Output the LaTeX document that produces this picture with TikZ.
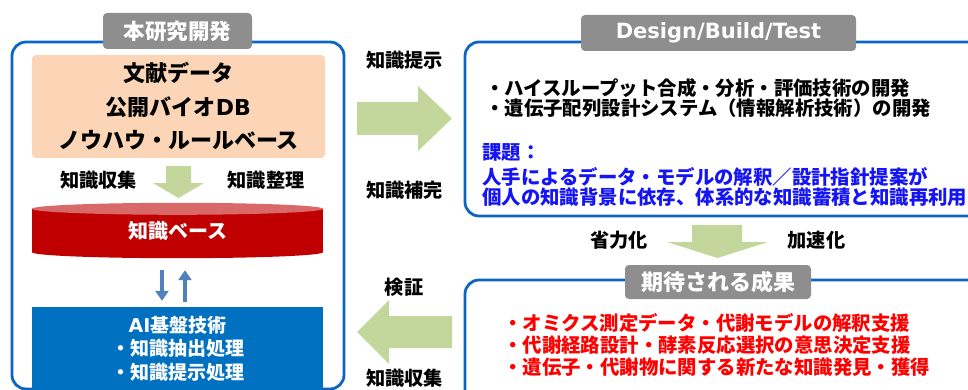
\documentclass[tikz,border=0pt]{standalone}
\usepackage{fontspec}
\setmainfont{Noto Sans CJK JP}
\newfontfamily\lat{DejaVu Sans}
\usetikzlibrary{arrows.meta,calc}
\definecolor{frameblue}{HTML}{0A66C2}
\definecolor{aiblue}{HTML}{0070C0}
\definecolor{tabgray}{HTML}{8E8E8E}
\definecolor{peach}{HTML}{FBD5B5}
\definecolor{arrowgreen}{HTML}{C3D69B}
\definecolor{kbred}{HTML}{C00000}
\definecolor{kbtop}{HTML}{D96868}
\definecolor{linkblue}{HTML}{4F81BD}
\definecolor{issueblue}{HTML}{1414F5}
\definecolor{resultred}{HTML}{FF0000}
\begin{document}
\begin{tikzpicture}[x=1pt,y=-1pt,
  frame/.style={draw=frameblue, line width=2.8pt, rounded corners=14pt, fill=white, inner sep=0pt},
  tab/.style={fill=tabgray, rounded corners=4pt, text=white, font=\bfseries\fontsize{21.5}{24}\selectfont, inner sep=0pt},
  lbl/.style={font=\bfseries\fontsize{19.2}{20}\selectfont, inner sep=0pt},
  body/.style={font=\bfseries\fontsize{19.4}{20}\selectfont, inner sep=0pt, anchor=west, align=left},
  blockarrow/.style={fill=arrowgreen},
  link/.style={draw=linkblue, line width=3.3pt, -{Triangle[width=13pt,length=10pt]}}
]
\useasboundingbox (0,0) rectangle (968,390);
\clip (0,0) rectangle (968,390);

% frames
\node[frame, minimum width=332pt, minimum height=347pt] (devbox) at (178,215.5) {};
\node[frame, minimum width=530pt, minimum height=174pt] (dbtbox) at (730,129) {};
\node[frame, minimum width=530pt, minimum height=130pt] (resbox) at (730,345) {};

% tabs
\node[tab, minimum width=149pt, minimum height=36pt] (tabdev) at (177.5,31) {本研究開発};
\node[tab, minimum width=275pt, minimum height=36pt, font=\lat\bfseries\fontsize{21}{24}\selectfont] (tabdbt) at (718.5,33) {Design/Build/Test};
\node[tab, minimum width=186pt, minimum height=34pt, font=\bfseries\fontsize{22}{24}\selectfont] (tabres) at (718,282) {期待される成果};

% left column
\node[fill=peach, rounded corners=4pt, minimum width=293pt, minimum height=103pt, align=center,
      font=\bfseries\fontsize{22}{33.5}\selectfont, inner sep=0pt] (src) at (178.5,106.5)
      {文献データ\\公開バイオ{\lat\bfseries DB}\\ノウハウ・ルールベース};
\node[lbl] (collectA) at (98.5,180) {知識収集};
\node[lbl] (organize) at (266,180) {知識整理};
\fill[blockarrow] (166,166) -- (191,166) -- (191,183) -- (204,183) -- (178.5,198) -- (153,183) -- (166,183) -- cycle;

\node[fill=kbred, minimum width=291pt, minimum height=43pt, inner sep=0pt, text=white,
      font=\bfseries\fontsize{20}{22}\selectfont] (kb) at (177.5,230.5) {知識ベース};
\fill[kbred] (kb.south) ellipse[x radius=145.5pt, y radius=6pt];
\fill[kbtop] (kb.north) ellipse[x radius=145.5pt, y radius=6pt];

\node[fill=aiblue, minimum width=291pt, minimum height=83pt, inner sep=0pt, text=white, align=center,
      font=\bfseries\fontsize{19}{23.5}\selectfont] (ai) at (177.5,348.5)
      {{\lat\bfseries AI}基盤技術\\・知識抽出処理\\・知識提示処理};

\draw[link] ($(kb.south)+(-15.5,18)$) -- ($(ai.north)+(-15.5,-6)$);
\draw[link] ($(ai.north)+(7.5,-5)$) -- ($(kb.south)+(7.5,18)$);

% middle column
\node[lbl] (present) at (404.5,60) {知識提示};
\node[lbl] (complement) at (404.5,190) {知識補完};
\node[lbl] (verify) at (404,287) {検証};
\node[lbl] (collectB) at (404.5,378) {知識収集};
\fill[blockarrow] (357,102) -- (418,102) -- (418,86) -- (452,118.5) -- (418,151) -- (418,135) -- (357,135) -- cycle;
\fill[blockarrow] (452,316) -- (389,316) -- (389,300) -- (357,332) -- (389,364) -- (389,348) -- (452,348) -- cycle;

% right column
\node[body] (dbtitems) at (485,98)
  {・ハイスループット合成・分析・評価技術の開発\\・遺伝子配列設計システム（情報解析技術）の開発};
\node[body, text=issueblue] (issuehead) at (482,152) {課題：};
\node[body, text=issueblue] (issuebody) at (482,187)
  {人手によるデータ・モデルの解釈／設計指針提案が\\個人の知識背景に依存、体系的な知識蓄積と知識再利用};

\node[lbl] (saving) at (619,240) {省力化};
\node[lbl] (speedup) at (816.5,240) {加速化};
\fill[blockarrow] (692,225) -- (742,225) -- (742,242) -- (768,242) -- (717.5,258) -- (667,242) -- (692,242) -- cycle;

\node[body, text=resultred, font=\bfseries\fontsize{19.4}{22}\selectfont] (results) at (503,345)
  {・オミクス測定データ・代謝モデルの解釈支援\\・代謝経路設計・酵素反応選択の意思決定支援\\・遺伝子・代謝物に関する新たな知識発見・獲得};
\end{tikzpicture}
\end{document}
